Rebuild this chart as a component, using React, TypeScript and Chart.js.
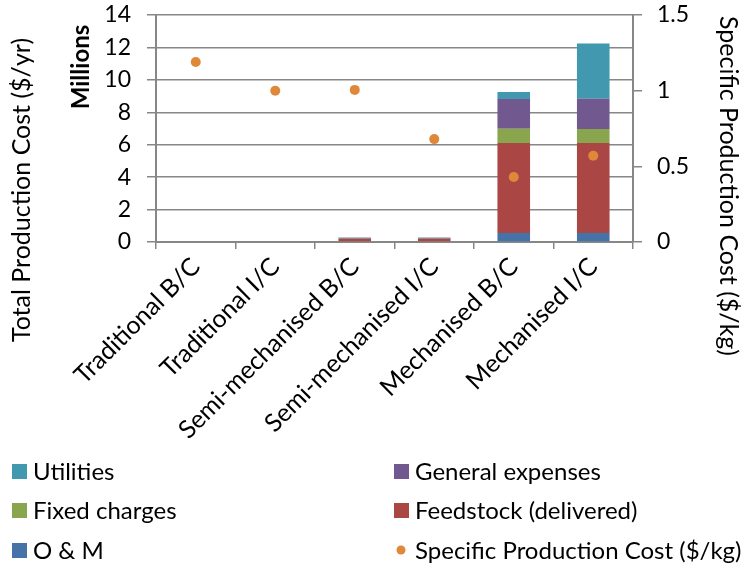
import React, { useEffect, useRef } from "react";
import { Chart, registerables } from "chart.js";

Chart.register(...registerables);

const categories = [
  "Traditional B/C",
  "Traditional I/C",
  "Semi-mechanised B/C",
  "Semi-mechanised I/C",
  "Mechanised B/C",
  "Mechanised I/C",
];
const omValues = [0, 0, 0.04, 0.04, 0.55, 0.55];
const feedstockValues = [0, 0, 0.14, 0.14, 5.55, 5.55];
const fixedValues = [0, 0, 0.02, 0.02, 0.88, 0.87];
const generalValues = [0, 0, 0.06, 0.06, 1.84, 1.86];
const utilitiesValues = [0, 0, 0.02, 0.02, 0.43, 3.41];
const specificCost = [1.19, 1.0, 1.005, 0.68, 0.43, 0.57];

const leftTicks = [0, 2, 4, 6, 8, 10, 12, 14];
const rightTicks = [0, 0.5, 1, 1.5];

const FONT = "Lato, 'Open Sans', sans-serif";
const GRID = "#878787";
const FS = 23;

const COLORS = {
  om: "#4572A7",
  feed: "#AA4643",
  fixed: "#89A54E",
  general: "#71588F",
  util: "#4198AF",
  spec: "#E0883A",
};

const overlay = {
  id: "overlay",
  afterDraw(chart: any) {
    const ctx = chart.ctx;
    ctx.save();
    ctx.fillStyle = "#000";
    ctx.textBaseline = "middle";
    ctx.textAlign = "center";
    // left axis title
    ctx.font = `25px ${FONT}`;
    ctx.save();
    ctx.translate(22, 190);
    ctx.rotate(-Math.PI / 2);
    ctx.fillText("Total Production Cost ($/yr)", 0, 0);
    ctx.restore();
    // Millions
    ctx.font = `bold 24px ${FONT}`;
    ctx.save();
    ctx.translate(81, 67);
    ctx.rotate(-Math.PI / 2);
    ctx.fillText("Millions", 0, 0);
    ctx.restore();
    // right axis title
    ctx.font = `25px ${FONT}`;
    ctx.save();
    ctx.translate(728, 186);
    ctx.rotate(Math.PI / 2);
    ctx.fillText("Specific Production Cost ($/kg)", 0, 0);
    ctx.restore();

    // legend
    const ds = chart.data.datasets;
    const byLabel = (l: string) => ds.find((d: any) => d.label === l);
    const items = [
      { l: "Utilities", x: 12, y: 471 },
      { l: "General expenses", x: 394, y: 471 },
      { l: "Fixed charges", x: 12, y: 510 },
      { l: "Feedstock (delivered)", x: 394, y: 510 },
      { l: "O & M", x: 12, y: 550 },
      { l: "Specific Production Cost ($/kg)", x: 394, y: 550 },
    ];
    ctx.textAlign = "left";
    ctx.font = `24px ${FONT}`;
    items.forEach((it) => {
      const d: any = byLabel(it.l);
      if (!d) return;
      if (d.type === "line") {
        ctx.fillStyle = d.pointBackgroundColor;
        ctx.beginPath();
        ctx.arc(it.x + 7, it.y, 4.5, 0, Math.PI * 2);
        ctx.fill();
      } else {
        ctx.fillStyle = d.backgroundColor;
        ctx.fillRect(it.x, it.y - 7, 15, 15);
      }
      ctx.fillStyle = "#000";
      ctx.fillText(it.l, it.x + 21, it.y + 1);
    });
    ctx.restore();
  },
};

export default function App() {
  const ref = useRef<HTMLCanvasElement | null>(null);
  useEffect(() => {
    if (!ref.current) return;
    const mk = (label: string, data: number[], color: string) => ({
      type: "bar" as const,
      label,
      data,
      backgroundColor: color,
      borderWidth: 0,
      yAxisID: "y",
      stack: "s",
      order: 1,
      barPercentage: 0.41,
      categoryPercentage: 1,
    });
    const chart = new Chart(ref.current, {
      type: "bar",
      data: {
        labels: categories,
        datasets: [
          mk("O & M", omValues, COLORS.om),
          mk("Feedstock (delivered)", feedstockValues, COLORS.feed),
          mk("Fixed charges", fixedValues, COLORS.fixed),
          mk("General expenses", generalValues, COLORS.general),
          mk("Utilities", utilitiesValues, COLORS.util),
          {
            type: "line",
            label: "Specific Production Cost ($/kg)",
            data: specificCost,
            showLine: false,
            yAxisID: "y1",
            order: 0,
            pointRadius: 5,
            pointBackgroundColor: COLORS.spec,
            pointBorderColor: COLORS.spec,
            pointBorderWidth: 0,
          } as any,
        ],
      },
      plugins: [overlay],
      options: {
        animation: false,
        responsive: false,
        layout: { padding: { top: 15, left: 0, right: 0, bottom: 0 } },
        plugins: { legend: { display: false }, tooltip: { enabled: false } },
        scales: {
          x: {
            stacked: true,
            offset: true,
            grid: {
              offset: true,
              drawOnChartArea: false,
              drawTicks: true,
              tickLength: 7,
              color: GRID,
              lineWidth: 1.5,
            },
            border: { color: GRID, width: 2 },
            ticks: {
              color: "#000",
              font: { family: FONT, size: 25 },
              maxRotation: 45,
              minRotation: 45,
              autoSkip: false,
              padding: 3,
            },
            afterFit: (s: any) => {
              s.height = 563 - 242;
              s.paddingLeft = 0;
              s.paddingRight = 0;
            },
          },
          y: {
            stacked: true,
            position: "left",
            min: 0,
            max: 14,
            afterBuildTicks: (s: any) => {
              s.ticks = leftTicks.map((v) => ({ value: v }));
            },
            grid: { color: GRID, lineWidth: 1.5, tickLength: 9 },
            border: { color: GRID, width: 2 },
            ticks: {
              color: "#000",
              font: { family: FONT, size: FS },
              padding: 16,
              autoSkip: false,
            },
            afterFit: (s: any) => {
              s.width = 156;
              s.paddingTop = 0;
              s.paddingBottom = 0;
            },
          },
          y1: {
            position: "right",
            min: 0,
            max: 1.5,
            afterBuildTicks: (s: any) => {
              s.ticks = rightTicks.map((v) => ({ value: v }));
            },
            grid: { drawOnChartArea: false, color: GRID, lineWidth: 1.5, tickLength: 9 },
            border: { color: GRID, width: 2 },
            ticks: {
              color: "#000",
              font: { family: FONT, size: FS },
              padding: 15,
              autoSkip: false,
              callback: (v: any) => String(v),
            },
            afterFit: (s: any) => {
              s.width = 749 - 633;
              s.paddingTop = 0;
              s.paddingBottom = 0;
            },
          },
        },
      },
    });
    return () => chart.destroy();
  }, []);
  return (
    <div style={{ position: "fixed", left: 0, top: 0, width: 749, height: 563, background: "#fff" }}>
      <canvas ref={ref} width={749} height={563} style={{ width: 749, height: 563 }} />
    </div>
  );
}
